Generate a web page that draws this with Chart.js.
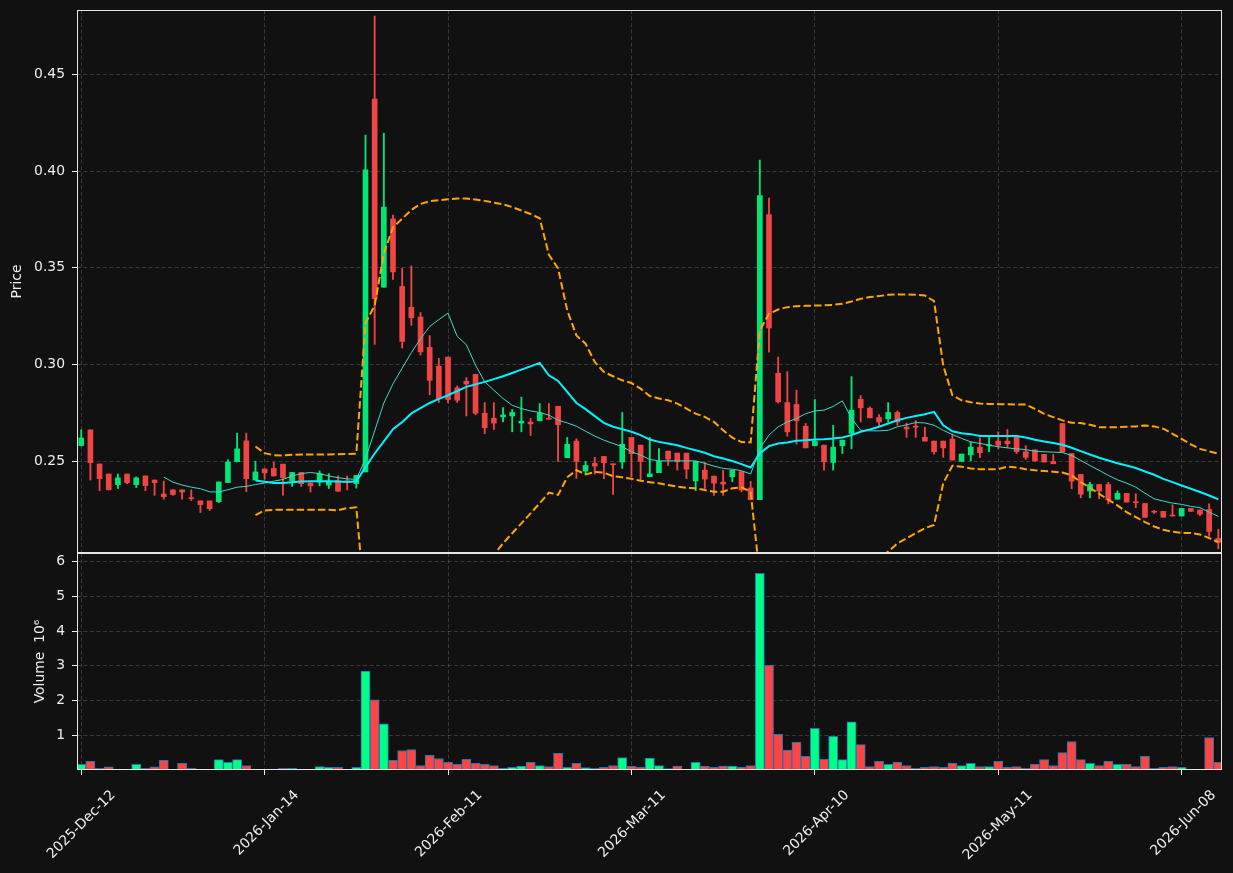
<!DOCTYPE html>
<html>
<head>
<meta charset="utf-8">
<script src="https://cdn.jsdelivr.net/npm/chart.js@4.4.1/dist/chart.umd.min.js"></script>
<style>
  html, body { margin: 0; background: #111111; }
  #wrap { position: relative; width: 1233px; height: 873px; overflow: hidden; }
  canvas { position: absolute; left: 0; }
  #price { top: 0; }
  #vol { top: 550px; }
</style>
</head>
<body>
<div id="wrap">
  <canvas id="price" width="1233" height="560"></canvas>
  <canvas id="vol" width="1233" height="323"></canvas>
</div>
<script>
// Candles + moving averages + bands, with a volume pane underneath.
const qs = (s) => document.querySelector(s);

const tickIdx = [0, 20, 40, 60, 80, 100, 120];
const tickLbl = ['2025-Dec-12', '2026-Jan-14', '2026-Feb-11', '2026-Mar-11', '2026-Apr-10', '2026-May-11', '2026-Jun-08'];
const priceTicks = [0.25, 0.30, 0.35, 0.40, 0.45];
const volTicks = [1, 2, 3, 4, 5, 6];

const open = [0.2582,0.2663,0.2487,0.2435,0.2380,0.2435,0.2380,0.2425,0.2404,0.2332,
  0.2353,0.2353,0.2313,0.2296,0.2296,0.2292,0.2391,0.2499,0.2606,0.2404,
  0.2461,0.2464,0.2486,0.2398,0.2443,0.2389,0.2394,0.2378,0.2401,0.2400,
  0.2385,0.2446,0.4372,0.3400,0.3753,0.3404,0.3296,0.3246,0.3089,0.2992,
  0.3039,0.2880,0.2914,0.2950,0.2749,0.2723,0.2730,0.2735,0.2698,0.2703,
  0.2710,0.2723,0.2785,0.2519,0.2605,0.2450,0.2490,0.2526,0.2487,0.2497,
  0.2624,0.2584,0.2421,0.2442,0.2553,0.2543,0.2543,0.2399,0.2455,0.2424,
  0.2393,0.2421,0.2447,0.2363,0.2302,0.3775,0.2955,0.2804,0.2794,0.2682,
  0.2581,0.2584,0.2495,0.2581,0.2644,0.2821,0.2775,0.2727,0.2720,0.2753,
  0.2677,0.2682,0.2625,0.2605,0.2605,0.2615,0.2500,0.2534,0.2574,0.2580,
  0.2605,0.2605,0.2625,0.2550,0.2560,0.2536,0.2500,0.2696,0.2541,0.2433,
  0.2347,0.2381,0.2381,0.2305,0.2335,0.2292,0.2283,0.2242,0.2242,0.2223,
  0.2218,0.2257,0.2249,0.2252,0.2102];
const high = [0.2663,0.2663,0.2487,0.2435,0.2435,0.2435,0.2420,0.2425,0.2404,0.2398,
  0.2355,0.2353,0.2353,0.2296,0.2296,0.2394,0.2508,0.2646,0.2646,0.2501,
  0.2461,0.2496,0.2486,0.2443,0.2443,0.2389,0.2451,0.2437,0.2425,0.2425,
  0.2428,0.4186,0.4800,0.4195,0.3772,0.3497,0.3510,0.3269,0.3150,0.3032,
  0.3039,0.2890,0.2933,0.2950,0.2804,0.2804,0.2778,0.2768,0.2832,0.2722,
  0.2799,0.2799,0.2785,0.2624,0.2617,0.2500,0.2521,0.2526,0.2487,0.2753,
  0.2624,0.2584,0.2624,0.2567,0.2553,0.2543,0.2543,0.2500,0.2495,0.2424,
  0.2454,0.2455,0.2447,0.2397,0.4057,0.3861,0.3039,0.2964,0.2868,0.2696,
  0.2820,0.2584,0.2687,0.2610,0.2938,0.2840,0.2782,0.2742,0.2804,0.2761,
  0.2698,0.2711,0.2677,0.2605,0.2605,0.2641,0.2538,0.2601,0.2622,0.2624,
  0.2653,0.2665,0.2625,0.2581,0.2560,0.2536,0.2536,0.2696,0.2541,0.2433,
  0.2392,0.2381,0.2392,0.2348,0.2335,0.2333,0.2283,0.2247,0.2242,0.2276,
  0.2257,0.2257,0.2249,0.2281,0.2149];
const low = [0.2580,0.2404,0.2349,0.2352,0.2360,0.2385,0.2365,0.2349,0.2325,0.2305,
  0.2325,0.2305,0.2298,0.2236,0.2246,0.2287,0.2391,0.2497,0.2344,0.2404,
  0.2408,0.2425,0.2326,0.2371,0.2371,0.2342,0.2374,0.2360,0.2346,0.2353,
  0.2362,0.2446,0.3104,0.3400,0.3440,0.3086,0.3203,0.3050,0.2845,0.2805,
  0.2802,0.2805,0.2735,0.2741,0.2643,0.2665,0.2704,0.2653,0.2653,0.2634,
  0.2710,0.2718,0.2500,0.2519,0.2412,0.2435,0.2435,0.2411,0.2330,0.2464,
  0.2421,0.2404,0.2421,0.2442,0.2479,0.2455,0.2411,0.2349,0.2361,0.2325,
  0.2325,0.2395,0.2344,0.2302,0.2302,0.3065,0.2802,0.2631,0.2589,0.2570,
  0.2581,0.2455,0.2455,0.2541,0.2565,0.2704,0.2725,0.2679,0.2703,0.2687,
  0.2624,0.2624,0.2605,0.2538,0.2521,0.2507,0.2500,0.2503,0.2519,0.2550,
  0.2565,0.2570,0.2541,0.2510,0.2502,0.2497,0.2488,0.2548,0.2359,0.2312,
  0.2312,0.2307,0.2281,0.2305,0.2290,0.2261,0.2211,0.2231,0.2212,0.2218,
  0.2218,0.2242,0.2219,0.2113,0.2049];
const close = [0.2621,0.2494,0.2411,0.2354,0.2415,0.2390,0.2415,0.2375,0.2390,0.2318,
  0.2329,0.2342,0.2308,0.2277,0.2256,0.2394,0.2497,0.2565,0.2411,0.2446,
  0.2441,0.2425,0.2416,0.2443,0.2385,0.2374,0.2437,0.2392,0.2346,0.2395,
  0.2428,0.4006,0.3341,0.3814,0.3479,0.3120,0.3242,0.3066,0.2919,0.2823,
  0.2820,0.2816,0.2900,0.2749,0.2674,0.2698,0.2740,0.2753,0.2708,0.2694,
  0.2751,0.2718,0.2689,0.2589,0.2500,0.2479,0.2476,0.2493,0.2483,0.2589,
  0.2540,0.2500,0.2436,0.2500,0.2512,0.2498,0.2460,0.2500,0.2409,0.2388,
  0.2383,0.2455,0.2352,0.2302,0.3873,0.3189,0.2808,0.2653,0.2710,0.2570,
  0.2605,0.2498,0.2574,0.2610,0.2765,0.2777,0.2725,0.2704,0.2753,0.2704,
  0.2668,0.2677,0.2605,0.2550,0.2570,0.2507,0.2538,0.2574,0.2545,0.2586,
  0.2584,0.2591,0.2550,0.2521,0.2502,0.2497,0.2488,0.2548,0.2398,0.2331,
  0.2381,0.2347,0.2302,0.2335,0.2290,0.2287,0.2211,0.2238,0.2212,0.2218,
  0.2257,0.2242,0.2228,0.2138,0.2082];
// millions
const volume = [0.16,0.25,0.05,0.09,0.01,0.01,0.16,0.05,0.09,0.28,
  0.02,0.19,0.05,0.01,0.01,0.30,0.22,0.30,0.13,0.02,
  0.01,0.01,0.05,0.05,0.01,0.01,0.10,0.08,0.08,0.01,
  0.08,2.85,2.02,1.33,0.28,0.56,0.59,0.13,0.42,0.33,
  0.22,0.16,0.31,0.19,0.16,0.13,0.05,0.08,0.11,0.22,
  0.13,0.10,0.48,0.08,0.19,0.07,0.05,0.08,0.13,0.36,
  0.11,0.08,0.34,0.13,0.04,0.11,0.02,0.22,0.11,0.08,
  0.11,0.11,0.08,0.13,5.66,3.01,1.03,0.57,0.80,0.39,
  1.20,0.31,0.97,0.30,1.39,0.73,0.10,0.25,0.16,0.22,
  0.13,0.05,0.08,0.10,0.08,0.19,0.13,0.19,0.10,0.10,
  0.25,0.08,0.10,0.05,0.16,0.30,0.13,0.50,0.82,0.30,
  0.19,0.13,0.25,0.16,0.16,0.10,0.39,0.05,0.08,0.10,
  0.08,0.01,0.01,0.93,0.22];

const MA10_START = 9;
const ma10 = [0.2419,0.2393,0.2378,0.2367,0.2359,0.2343,0.2342,0.2354,0.2367,0.2371,
  0.2381,0.2388,0.2398,0.2407,0.2425,0.2437,0.2443,0.2437,0.2425,0.2416,
  0.2410,0.2407,0.2514,0.2658,0.2802,0.2901,0.2982,0.3062,0.3134,0.3197,
  0.3233,0.3266,0.3146,0.3103,0.2997,0.2911,0.2868,0.2825,0.2790,0.2773,
  0.2761,0.2753,0.2739,0.2713,0.2699,0.2682,0.2656,0.2631,0.2610,0.2593,
  0.2576,0.2550,0.2533,0.2510,0.2503,0.2503,0.2503,0.2503,0.2503,0.2490,
  0.2476,0.2464,0.2460,0.2452,0.2435,0.2567,0.2636,0.2679,0.2704,0.2722,
  0.2747,0.2761,0.2765,0.2784,0.2813,0.2722,0.2661,0.2658,0.2658,0.2661,
  0.2679,0.2689,0.2701,0.2699,0.2687,0.2661,0.2639,0.2619,0.2601,0.2593,
  0.2584,0.2576,0.2570,0.2565,0.2561,0.2553,0.2550,0.2548,0.2546,0.2531,
  0.2505,0.2479,0.2454,0.2428,0.2405,0.2388,0.2367,0.2336,0.2307,0.2295,
  0.2285,0.2278,0.2268,0.2261,0.2238,0.2216];

const MA20_START = 19;
const ma20 = [0.2402,0.2395,0.2389,0.2389,0.2392,0.2396,0.2398,0.2398,0.2398,0.2396,
  0.2394,0.2398,0.2470,0.2541,0.2604,0.2667,0.2703,0.2748,0.2775,0.2802,
  0.2823,0.2842,0.2864,0.2885,0.2898,0.2911,0.2925,0.2940,0.2957,0.2974,
  0.2991,0.3009,0.2945,0.2916,0.2859,0.2802,0.2770,0.2734,0.2699,0.2679,
  0.2667,0.2653,0.2636,0.2613,0.2601,0.2593,0.2584,0.2570,0.2558,0.2545,
  0.2527,0.2515,0.2502,0.2486,0.2469,0.2541,0.2579,0.2593,0.2598,0.2607,
  0.2610,0.2613,0.2615,0.2619,0.2624,0.2636,0.2653,0.2665,0.2679,0.2696,
  0.2713,0.2725,0.2735,0.2744,0.2756,0.2687,0.2656,0.2646,0.2641,0.2632,
  0.2632,0.2632,0.2632,0.2631,0.2624,0.2612,0.2603,0.2595,0.2586,0.2571,
  0.2553,0.2536,0.2519,0.2505,0.2491,0.2479,0.2466,0.2448,0.2431,0.2410,
  0.2393,0.2376,0.2359,0.2342,0.2324,0.2304];
const bandUp = [0.2577,0.2543,0.2532,0.2531,0.2534,0.2536,0.2536,0.2536,0.2536,0.2537,
  0.2538,0.2540,0.3215,0.3305,0.3575,0.3709,0.3754,0.3799,0.3830,0.3844,
  0.3850,0.3854,0.3858,0.3858,0.3853,0.3846,0.3837,0.3828,0.3814,0.3796,
  0.3778,0.3756,0.3567,0.3497,0.3280,0.3151,0.3108,0.3014,0.2962,0.2940,
  0.2919,0.2905,0.2876,0.2838,0.2825,0.2816,0.2799,0.2773,0.2747,0.2730,
  0.2704,0.2661,0.2623,0.2600,0.2598,0.3177,0.3263,0.3285,0.3297,0.3302,
  0.3304,0.3305,0.3306,0.3309,0.3314,0.3326,0.3340,0.3349,0.3354,0.3361,
  0.3362,0.3362,0.3361,0.3357,0.3328,0.2995,0.2842,0.2816,0.2806,0.2799,
  0.2797,0.2796,0.2796,0.2794,0.2794,0.2772,0.2746,0.2729,0.2712,0.2700,
  0.2698,0.2689,0.2677,0.2677,0.2677,0.2679,0.2681,0.2686,0.2681,0.2669,
  0.2643,0.2617,0.2588,0.2565,0.2552,0.2540];
const bandLo = [0.2223,0.2247,0.2250,0.2250,0.2250,0.2250,0.2250,0.2250,0.2250,0.2248,
  0.2259,0.2263,0.1725,0.1777,0.1633,0.1625,0.1652,0.1697,0.1720,0.1760,
  0.1796,0.1829,0.1871,0.1912,0.1941,0.1974,0.2018,0.2077,0.2129,0.2180,
  0.2232,0.2284,0.2339,0.2327,0.2418,0.2455,0.2433,0.2445,0.2442,0.2424,
  0.2418,0.2411,0.2400,0.2393,0.2387,0.2378,0.2370,0.2364,0.2361,0.2352,
  0.2344,0.2344,0.2361,0.2366,0.2344,0.1905,0.1895,0.1901,0.1899,0.1912,
  0.1916,0.1921,0.1924,0.1929,0.1934,0.1946,0.1966,0.1981,0.2004,0.2034,
  0.2077,0.2103,0.2129,0.2155,0.2172,0.2387,0.2478,0.2473,0.2464,0.2460,
  0.2460,0.2460,0.2473,0.2469,0.2460,0.2454,0.2450,0.2447,0.2443,0.2428,
  0.2393,0.2364,0.2333,0.2302,0.2273,0.2238,0.2212,0.2187,0.2164,0.2147,
  0.2137,0.2131,0.2130,0.2123,0.2104,0.2083];

const FG = '#eeeeee', GRID = 'rgba(255,255,255,0.17)', DASH = [4, 2.5];
const FONT = { family: 'DejaVu Sans', size: 13.9 };
const UP = '#00e676', DN = '#f04545', VUP = '#00ff88', VDN = '#ff4444';

const idx = open.map((_, i) => i);
const isUp = idx.map((i) => close[i] >= open[i]);

// matplotlib-style box round each pane
const frame = {
  id: 'frame',
  afterDraw(c) {
    const { ctx, chartArea: a } = c;
    ctx.save();
    ctx.strokeStyle = '#e6e6e6'; ctx.lineWidth = 1;
    ctx.strokeRect(Math.round(a.left) + 0.5, Math.round(a.top) + 0.5, Math.round(a.width) - 1, Math.round(a.height) - 1);
    ctx.restore();
  },
};

const fixTicks = (vals) => (s) => { s.ticks = vals.map((v) => ({ value: v })); };
// fixed axis boxes, no extra room for half-labels at the ends
const noPad = (s) => { s.paddingTop = s.paddingBottom = s.paddingLeft = s.paddingRight = 0; };

const xAxis = (show) => ({
  type: 'linear', min: -0.46, max: 124.4, offset: false,
  afterBuildTicks: fixTicks(tickIdx),
  afterFit: (s) => { s.height = show ? 103 : 0; noPad(s); },
  grid: { color: GRID, offset: false, drawTicks: show, tickLength: 5, tickColor: FG },
  border: { display: false, dash: DASH },
  ticks: {
    display: show, color: FG, font: FONT, autoSkip: false, minRotation: 45, maxRotation: 45,
    padding: 12, labelOffset: 32, callback: (v, i) => tickLbl[i],
  },
});

const yAxis = (min, max, vals, fmt, title, titlePad) => ({
  min, max, beginAtZero: false,
  afterBuildTicks: fixTicks(vals),
  afterFit: (s) => { s.width = 77; noPad(s); },
  grid: { color: GRID, tickLength: 5, tickColor: FG },
  border: { display: false, dash: DASH },
  ticks: { color: FG, font: FONT, padding: 7, callback: fmt },
  title: { display: true, text: title, color: FG, font: FONT, padding: { top: titlePad, bottom: 0 } },
});

const line = (start, vals, color, width, dash) => ({
  type: 'line', data: vals.map((v, k) => ({ x: start + k, y: v })),
  borderColor: color, borderWidth: width, borderDash: dash || [],
  pointRadius: 0, fill: false, tension: 0, clip: 0, order: 0,
});

const base = (pad) => ({
  responsive: false, animation: false, events: [],
  layout: { padding: pad },
  plugins: { legend: { display: false }, tooltip: { enabled: false } },
});

Chart.defaults.font.family = 'DejaVu Sans';

new Chart(qs('#price'), {
  type: 'bar',
  data: {
    datasets: [
      line(MA20_START, bandUp, '#ffa500', 2, [7.4, 3.2]),
      line(MA20_START, bandLo, '#ffa500', 2, [7.4, 3.2]),
      line(MA10_START, ma10, '#40d8cc', 1),
      line(MA20_START, ma20, '#00f2ff', 2),
      {
        data: idx.map((i) => ({ x: i, y: [open[i], close[i]] })),
        backgroundColor: idx.map((i) => (isUp[i] ? UP : DN)),
        barThickness: 5, minBarLength: 1, grouped: false, clip: 0, order: 1,
      },
      {
        data: idx.map((i) => ({ x: i, y: [low[i], high[i]] })),
        backgroundColor: idx.map((i) => (isUp[i] ? UP : DN)),
        barThickness: 1.2, grouped: false, clip: 0, order: 2,
      },
    ],
  },
  options: {
    ...base({ top: 10, right: 11, bottom: 7, left: 0 }),
    scales: {
      x: xAxis(false),
      y: yAxis(0.2027, 0.4832, priceTicks, (v) => v.toFixed(2), 'Price', 9.5),
    },
  },
  plugins: [frame],
});

new Chart(qs('#vol'), {
  type: 'bar',
  data: {
    datasets: [{
      data: idx.map((i) => ({ x: i, y: volume[i] })),
      backgroundColor: idx.map((i) => (isUp[i] ? VUP : VDN)),
      borderColor: '#1f77b4', borderWidth: 1, borderSkipped: false,
      barPercentage: 1, categoryPercentage: 1, clip: 0,
    }],
  },
  options: {
    ...base({ top: 3, right: 11, bottom: 0, left: 0 }),
    scales: {
      x: xAxis(true),
      y: yAxis(0, 6.246, volTicks, (v) => String(v), 'Volume  10\u2076', 31.7),
    },
  },
  plugins: [frame],
});
</script>
</body>
</html>
